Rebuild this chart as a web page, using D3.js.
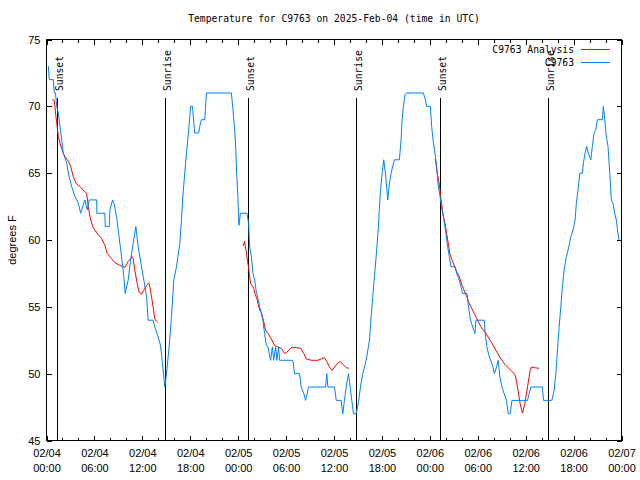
<!DOCTYPE html>
<html>
<head>
<meta charset="utf-8">
<script src="https://cdn.jsdelivr.net/npm/d3@7"></script>
<style>
  html, body { margin: 0; padding: 0; background: #fff; }
  svg { display: block; }
</style>
</head>
<body>
<script>
// ---- Data (hours after 2025-02-04 00:00 UTC) ----
const obsHours = [0.23,0.35,0.85,0.98,1.13,1.28,1.48,1.69,1.9,2.1,2.53,2.73,3.15,3.56,3.98,4.28,4.6,4.81,5.1,5.35,6.28,6.31,7.31,7.35,7.85,7.94,8.28,8.44,8.78,8.98,9.4,9.69,9.85,10.23,10.53,10.85,11.19,11.48,11.9,12.19,12.53,12.73,13.35,13.56,13.98,14.28,14.53,14.81,15.03,15.35,15.65,15.94,16.28,16.69,16.9,17.1,17.31,17.53,17.73,17.94,18.06,18.28,18.56,19.06,19.19,19.4,19.81,20.03,23.15,23.35,23.56,23.69,23.81,23.94,24.1,24.28,25.1,25.31,25.44,25.65,25.85,26.06,26.28,26.48,26.69,27.1,27.31,27.53,27.73,28.06,28.28,28.44,28.69,28.85,29.06,29.19,30.85,31.06,31.69,31.9,32.23,32.44,32.65,32.81,34.94,35.1,35.23,36.06,36.28,36.9,37.1,37.31,37.53,37.81,38.03,38.23,38.44,38.78,39.1,39.31,39.6,40.03,40.44,40.65,40.85,41.06,41.28,41.56,41.78,41.98,42.23,42.44,42.73,42.94,43.15,43.35,43.56,44.19,44.4,44.53,44.69,44.9,45.15,47.19,47.44,47.6,48.06,48.23,48.44,48.65,48.85,49.06,49.28,49.48,49.69,49.94,50.23,50.44,50.65,51.19,51.35,51.69,51.9,52.1,52.65,52.85,53.06,53.35,53.65,53.78,54.81,54.94,55.15,55.44,55.78,56.1,56.35,56.56,56.78,57.03,57.31,57.6,57.81,58.06,58.28,60.23,60.65,62.1,62.23,63.28,63.56,63.78,63.98,64.19,64.4,64.6,64.81,65.1,65.44,65.65,65.94,66.19,66.35,66.56,66.78,67.1,67.23,67.44,67.65,67.85,68.15,68.35,68.56,68.78,68.98,69.6,69.73,69.9,70.1,70.31,70.53,70.73,70.94,71.15,71.35,71.56,71.69];
const obsTemps = [73,72,72,71,71,70,69.5,68.5,67.5,66.5,65.75,65,64,63.25,62.75,62,62.6,63,62.25,63,63,62,62,61,61,62.25,63,62.75,61.75,60.75,58.75,57.25,56,57,58.5,59.75,61,59.5,58,57,55.75,54,54,53.5,52.75,52.1,50.75,49,50,52,54.25,57,58,59.75,61.5,63.5,65,66.5,67.75,69.25,70,70,68,68,68.5,69,69,71,71,69.75,68.25,67,65,63.5,61.1,62,62,61.25,59.5,58.75,57.5,57,56.1,55.6,55,54,53,52.1,52,51,52,51,52,51,52,51,51,50,50,49,48.5,48,48.5,49,49,50,49,49,48,48,47,48,49,50,49,48,47,47,48,49,50,51,52.5,54.25,55.75,57.25,58.75,61,63.4,64.75,66,65,63,64.25,65,65.5,66,66,67.5,69,70,70.9,71,71,70.5,70,70,68.5,67.3,66.5,65.5,64,63.25,62.4,61.8,60.8,59.5,58.75,58,58,57.5,57,56.5,56,56,55,54.1,53.5,53,54,54,53,52,51.25,50.75,50,50.5,51,49.75,49,48.5,48,47,47,48,48,49,49,48,48,48.75,50,51.75,53.5,55,56.5,57.75,58.75,59.6,60.25,60.75,61.5,62.75,63.75,65,65,65.75,66.5,67,66.5,66,67,68,68.25,69,69,70,69,67.75,67,65,63,62.75,62,61.5,60.5,60];

// Analysis series: null marks a gap between runs
const anaHours = [0.73,0.98,1.15,1.28,1.48,1.69,2.03,2.31,2.73,3.03,3.35,3.69,4.19,4.81,5.03,5.23,5.44,5.78,6.06,6.48,6.9,7.31,7.6,8.15,8.56,9.19,9.81,10.23,10.73,10.85,11.06,11.35,11.6,11.9,12.19,12.53,12.81,12.94,13.15,13.35,13.56,13.78,13.9,
  null,
  24.6,24.81,24.9,25.03,25.15,25.31,25.44,25.56,25.73,25.94,26.15,26.35,26.69,26.9,27.19,27.44,27.73,28.15,28.56,28.98,29.4,29.81,30.1,30.65,31.28,31.81,32.23,32.53,33.15,33.98,34.4,34.81,35.1,35.44,35.78,36.06,36.48,36.78,37.1,37.53,37.85,
  null,
  48.65,48.78,48.9,49.1,49.28,49.4,49.53,49.69,49.9,50.1,50.31,50.53,50.85,51.28,51.69,52.1,52.53,52.94,53.56,53.98,54.4,55.03,55.65,56.28,56.9,57.53,58.15,58.69,58.98,59.31,59.6,59.9,60.23,60.56,60.73,61.06,61.69];
const anaTemps = [70.5,70.45,69.4,68.75,67.75,67.25,66.6,66.25,65.9,65.5,64.75,64.25,64,63.6,63.5,62.5,61.75,61,60.75,60.4,60.1,59.6,59,58.6,58.3,58.1,57.95,58.4,58.75,58.6,57.75,56.75,56.1,55.95,56.25,56.6,56.8,56.5,55.75,55,54.1,53.9,53.85,
  null,
  59.55,59.9,59.5,59.1,58.5,57.9,57.25,56.75,56.6,56.4,55.9,55.6,54.75,54.6,53.9,53.25,53,52.6,52.1,52,51.9,51.5,51.6,51.95,51.95,51.9,51.5,51.1,51,51,51.1,51.2,50.9,50.5,50.25,50.5,50.8,50.9,50.7,50.45,50.4,
  null,
  66.05,65.75,65.1,64.5,63.75,63,62.5,61.75,61.25,60.5,59.75,58.9,58.4,57.75,57.25,56.5,55.9,55.25,54.5,54,53.5,53,52.4,51.75,51.1,50.6,50.25,49.9,49,47.75,47.05,47.75,49,50.25,50.5,50.45,50.4];

const sunHours  = [1.27, 14.83, 25.24, 38.74, 49.24, 62.75];
const sunLabels = ["Sunset","Sunrise","Sunset","Sunrise","Sunset","Sunrise"];

const yTicks = [45,50,55,60,65,70,75];
const seriesNames = ["C9763 Analysis","C9763"];
const seriesColors = ["#ff0000","#0080ff"];
const titleText = "Temperature for C9763 on 2025-Feb-04 (time in UTC)";
const yLabel = "degrees F";

// ---- Layout ----
const W = 640, H = 480;
const L = 46.5, R = 621.5, T = 39.5, B = 440.5;
const t0 = Date.UTC(2025,1,4,0,0);
const toDate = h => new Date(t0 + h*3600000);

const svg = d3.select("body").append("svg").attr("width", W).attr("height", H);
svg.append("rect").attr("width", W).attr("height", H).attr("fill", "#fff");

const x = d3.scaleUtc().domain([toDate(0), toDate(72)]).range([L, R]);
const y = d3.scaleLinear().domain([45, 75]).range([B, T]);

const mono = "'DejaVu Sans Mono','Liberation Mono',monospace";
const sans = "'Liberation Sans',Arial,sans-serif";

// major x ticks every 6 hours, minor every 2 hours
const major = d3.range(0, 73, 6).map(toDate);
const minor = d3.range(0, 73, 2).filter(h => h % 6 !== 0).map(toDate);
const fmtD = d3.utcFormat("%m/%d"), fmtT = d3.utcFormat("%H:%M");

const xAx = svg.append("g").attr("transform", `translate(0,${B})`)
  .call(d3.axisBottom(x).tickValues(major).tickSizeInner(-5).tickSizeOuter(0).tickPadding(9).tickFormat(""));
xAx.select(".domain").remove();
xAx.selectAll(".tick text").each(function(d){
  const t = d3.select(this);
  t.append("tspan").attr("x", 0).attr("dy", "0.71em").text(fmtD(d));
  t.append("tspan").attr("x", 0).attr("dy", "1.3em").text(fmtT(d));
});
xAx.selectAll("text").attr("font-family", sans).attr("font-size", 11).attr("fill", "#000");
const xMin = svg.append("g").attr("transform", `translate(0,${B})`)
  .call(d3.axisBottom(x).tickValues(minor).tickSizeInner(-3).tickSizeOuter(0).tickFormat(""));
xMin.select(".domain").remove();
// mirrored top ticks
const xTop = svg.append("g").attr("transform", `translate(0,${T})`)
  .call(d3.axisTop(x).tickValues(major).tickSizeInner(-5).tickSizeOuter(0).tickFormat(""));
xTop.select(".domain").remove();
const xTopMin = svg.append("g").attr("transform", `translate(0,${T})`)
  .call(d3.axisTop(x).tickValues(minor).tickSizeInner(-3).tickSizeOuter(0).tickFormat(""));
xTopMin.select(".domain").remove();

const yAx = svg.append("g").attr("transform", `translate(${L},0)`)
  .call(d3.axisLeft(y).tickValues(yTicks).tickSizeInner(-5).tickSizeOuter(0).tickPadding(6));
yAx.select(".domain").remove();
yAx.selectAll("text").attr("font-family", sans).attr("font-size", 11).attr("fill", "#000");
const yR = svg.append("g").attr("transform", `translate(${R},0)`)
  .call(d3.axisRight(y).tickValues(yTicks).tickSizeInner(-5).tickSizeOuter(0).tickFormat(""));
yR.select(".domain").remove();
svg.selectAll(".tick line").attr("stroke", "#000").attr("shape-rendering", "crispEdges");

// border
svg.append("rect").attr("x", L).attr("y", T).attr("width", R - L).attr("height", B - T)
  .attr("fill", "none").attr("stroke", "#000").attr("stroke-width", 1).attr("shape-rendering", "crispEdges");

// sunrise / sunset lines
const sunG = svg.append("g");
sunHours.forEach((h, i) => {
  const sx = Math.round(x(toDate(h))) + 0.5;
  sunG.append("line").attr("x1", sx).attr("x2", sx).attr("y1", y(70.6)).attr("y2", B)
    .attr("stroke", "#000").attr("stroke-width", 1).attr("shape-rendering", "crispEdges");
  sunG.append("text").attr("transform", `translate(${sx + 5},${y(71.15)}) rotate(-90)`)
    .attr("text-anchor", "start").attr("font-family", mono).attr("font-size", 9.7).attr("fill", "#000")
    .text(sunLabels[i]);
});

// series
const obs = obsHours.map((h, i) => ({h, v: obsTemps[i]}));
const ana = anaHours.map((h, i) => ({h, v: anaTemps[i]}));
const line = d3.line().defined(d => d.h !== null && d.v !== null)
  .x(d => x(toDate(d.h))).y(d => y(d.v));

svg.append("path").datum(ana).attr("d", line).attr("fill", "none")
  .attr("stroke", seriesColors[0]).attr("stroke-width", 1);
svg.append("path").datum(obs).attr("d", line).attr("fill", "none")
  .attr("stroke", seriesColors[1]).attr("stroke-width", 1);

// legend
const lg = svg.append("g");
seriesNames.forEach((n, i) => {
  const ly = 49.5 + i * 13;
  lg.append("text").attr("x", 574).attr("y", ly).attr("dy", "0.35em").attr("text-anchor", "end")
    .attr("font-family", mono).attr("font-size", 9.7).attr("fill", "#000").text(n);
  lg.append("line").attr("x1", 581).attr("x2", 610).attr("y1", ly).attr("y2", ly)
    .attr("stroke", seriesColors[i]).attr("stroke-width", 1).attr("shape-rendering", "crispEdges");
});

// title and y label
svg.append("text").attr("x", (L + R) / 2).attr("y", 19).attr("dy", "0.35em").attr("text-anchor", "middle")
  .attr("font-family", mono).attr("font-size", 9.7).attr("fill", "#000").text(titleText);
svg.append("text").attr("transform", `translate(12,${(T + B) / 2}) rotate(-90)`)
  .attr("text-anchor", "middle").attr("dy", "0.35em")
  .attr("font-family", sans).attr("font-size", 11).attr("fill", "#000").text(yLabel);
</script>
</body>
</html>
